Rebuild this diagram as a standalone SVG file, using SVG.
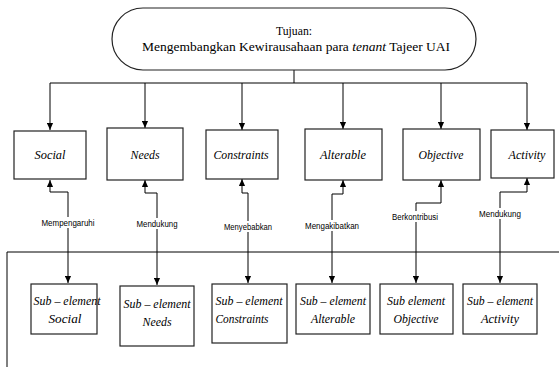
<svg xmlns="http://www.w3.org/2000/svg" width="559" height="367" viewBox="0 0 559 367">
<style>
.box{fill:#fff;stroke:#222;stroke-width:1.2}
.ln{fill:none;stroke:#000;stroke-width:1}
.t{font-size:13.5px;fill:#000;text-anchor:middle}
.i{font-style:italic}
.lab{font-size:8.5px;fill:#000;text-anchor:middle}
</style>
<defs>
<marker id="ah" viewBox="0 0 8 8" refX="8" refY="4" markerWidth="7" markerHeight="7" markerUnits="userSpaceOnUse" orient="auto">
<path d="M0,0.5 L8,4 L0,7.5 Z" fill="#000"/>
</marker>
</defs>
<rect width="559" height="367" fill="#fff"/>
<g id="connectors">
<path class="ln" d="M294,70 V83"/>
<path class="ln" d="M50,83 H527"/>
<path class="ln" d="M50,83 V130" marker-end="url(#ah)"/>
<path class="ln" d="M145,83 V128" marker-end="url(#ah)"/>
<path class="ln" d="M242,83 V130" marker-end="url(#ah)"/>
<path class="ln" d="M343,83 V129" marker-end="url(#ah)"/>
<path class="ln" d="M441,83 V129" marker-end="url(#ah)"/>
<path class="ln" d="M527,83 V130" marker-end="url(#ah)"/>
<path class="ln" d="M7,367 V252 H559"/>
<path class="ln" d="M68,192 H50 V180" marker-end="url(#ah)"/>
<path class="ln" d="M68,192 V283" marker-end="url(#ah)"/>
<path class="ln" d="M157,193 H145 V180" marker-end="url(#ah)"/>
<path class="ln" d="M157,193 V285" marker-end="url(#ah)"/>
<path class="ln" d="M248,193 H242 V179" marker-end="url(#ah)"/>
<path class="ln" d="M248,193 V283" marker-end="url(#ah)"/>
<path class="ln" d="M332,194 H343 V180" marker-end="url(#ah)"/>
<path class="ln" d="M332,194 V283" marker-end="url(#ah)"/>
<path class="ln" d="M416,203 H441 V180" marker-end="url(#ah)"/>
<path class="ln" d="M416,203 V283" marker-end="url(#ah)"/>
<path class="ln" d="M500,192 H527 V178" marker-end="url(#ah)"/>
<path class="ln" d="M500,192 V283" marker-end="url(#ah)"/>
<g id="labels" font-family="Liberation Sans, Arial, sans-serif">
<rect x="40" y="217" width="56" height="11" fill="#fff"/>
<text class="lab" x="68" y="226" textLength="53" lengthAdjust="spacingAndGlyphs">Mempengaruhi</text>
<rect x="135" y="218" width="44" height="11" fill="#fff"/>
<text class="lab" x="157" y="227" textLength="41" lengthAdjust="spacingAndGlyphs">Mendukung</text>
<rect x="222" y="221" width="52" height="11" fill="#fff"/>
<text class="lab" x="248" y="230" textLength="48" lengthAdjust="spacingAndGlyphs">Menyebabkan</text>
<rect x="304" y="220" width="56" height="11" fill="#fff"/>
<text class="lab" x="332" y="229" textLength="54" lengthAdjust="spacingAndGlyphs">Mengakibatkan</text>
<rect x="391" y="211" width="49" height="11" fill="#fff"/>
<text class="lab" x="415" y="220" textLength="46" lengthAdjust="spacingAndGlyphs">Berkontribusi</text>
<rect x="478" y="208" width="44" height="11" fill="#fff"/>
<text class="lab" x="500" y="217" textLength="42" lengthAdjust="spacingAndGlyphs">Mendukung</text>
</g>
</g>
<g font-family="Liberation Serif, Times New Roman, serif">
<g id="goal">
<rect class="box" x="112" y="8" width="364" height="62" rx="31" ry="31"/>
<text class="t" x="294" y="35" font-size="12.5" textLength="36" lengthAdjust="spacingAndGlyphs">Tujuan:</text>
<text class="t" x="296" y="51" font-size="11">Mengembangkan Kewirausahaan para <tspan class="i">tenant</tspan> Tajeer UAI</text>
</g>
<g id="social">
<rect class="box" x="14" y="131" width="72" height="48"/>
<text class="t i" x="50" y="159" textLength="31" lengthAdjust="spacingAndGlyphs">Social</text>
</g>
<g id="needs">
<rect class="box" x="107" y="128" width="76" height="52"/>
<text class="t i" x="145" y="159" textLength="29" lengthAdjust="spacingAndGlyphs">Needs</text>
</g>
<g id="constraints">
<rect class="box" x="206" y="130" width="72" height="49"/>
<text class="t i" x="241" y="159" textLength="55" lengthAdjust="spacingAndGlyphs">Constraints</text>
</g>
<g id="alterable">
<rect class="box" x="305" y="129" width="77" height="51"/>
<text class="t i" x="343" y="159" textLength="46" lengthAdjust="spacingAndGlyphs">Alterable</text>
</g>
<g id="objective">
<rect class="box" x="403" y="129" width="77" height="51"/>
<text class="t i" x="441" y="159" textLength="45" lengthAdjust="spacingAndGlyphs">Objective</text>
</g>
<g id="activity">
<rect class="box" x="491" y="130" width="63" height="48"/>
<text class="t i" x="527" y="159" textLength="37" lengthAdjust="spacingAndGlyphs">Activity</text>
</g>
<g id="sub-social">
<rect class="box" x="31" y="284" width="66" height="50"/>
<text class="t i" x="67" y="305" textLength="67" lengthAdjust="spacingAndGlyphs">Sub – element</text>
<text class="t i" x="65" y="323" textLength="33" lengthAdjust="spacingAndGlyphs">Social</text>
</g>
<g id="sub-needs">
<rect class="box" x="120" y="286" width="74" height="60"/>
<text class="t i" x="157" y="308" textLength="67" lengthAdjust="spacingAndGlyphs">Sub – element</text>
<text class="t i" x="157" y="326" textLength="29" lengthAdjust="spacingAndGlyphs">Needs</text>
</g>
<g id="sub-constraints">
<rect class="box" x="212" y="284" width="75" height="59"/>
<text class="t i" x="249" y="305" textLength="67" lengthAdjust="spacingAndGlyphs">Sub – element</text>
<text class="t i" x="242" y="323" textLength="53" lengthAdjust="spacingAndGlyphs">Constraints</text>
</g>
<g id="sub-alterable">
<rect class="box" x="296" y="284" width="74" height="50"/>
<text class="t i" x="333" y="305" textLength="66" lengthAdjust="spacingAndGlyphs">Sub – element</text>
<text class="t i" x="333" y="323" textLength="44" lengthAdjust="spacingAndGlyphs">Alterable</text>
</g>
<g id="sub-objective">
<rect class="box" x="380" y="284" width="73" height="50"/>
<text class="t i" x="416" y="305" textLength="58" lengthAdjust="spacingAndGlyphs">Sub element</text>
<text class="t i" x="416" y="323" textLength="45" lengthAdjust="spacingAndGlyphs">Objective</text>
</g>
<g id="sub-activity">
<rect class="box" x="463" y="284" width="74" height="50"/>
<text class="t i" x="500" y="305" textLength="66" lengthAdjust="spacingAndGlyphs">Sub – element</text>
<text class="t i" x="500" y="323" textLength="38" lengthAdjust="spacingAndGlyphs">Activity</text>
</g>
</g>
</svg>
